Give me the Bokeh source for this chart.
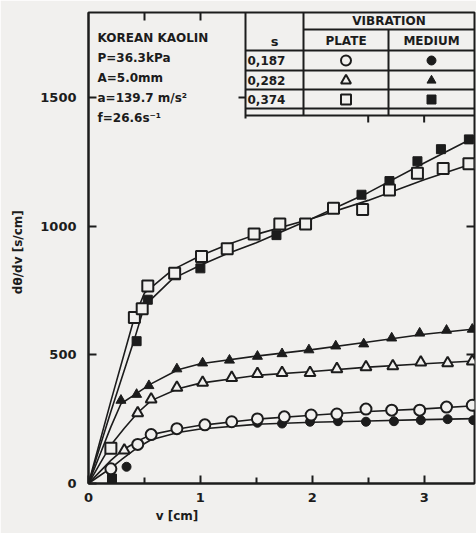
from bokeh.plotting import figure
from bokeh.models import Range1d, LinearAxis, FixedTicker, Label
from bokeh.embed import file_html
from bokeh.resources import INLINE

# ---------------- data ----------------
# s = 0.187  (circles)
plate_187_x = [0.20, 0.44, 0.56, 0.79, 1.04, 1.28, 1.51, 1.75, 1.99, 2.22, 2.48, 2.71, 2.96, 3.20, 3.43]
plate_187_y = [57, 152, 190, 213, 228, 240, 251, 259, 266, 270, 289, 285, 285, 297, 304]
medium_187_x = [0.34, 1.51, 1.73, 1.98, 2.23, 2.48, 2.73, 2.97, 3.21, 3.44]
medium_187_y = [65, 236, 233, 240, 242, 240, 242, 246, 250, 246]
# s = 0.282  (triangles)
plate_282_x = [0.32, 0.44, 0.56, 0.79, 1.02, 1.28, 1.51, 1.73, 1.98, 2.22, 2.48, 2.72, 2.97, 3.21, 3.43]
plate_282_y = [129, 274, 327, 373, 392, 411, 426, 430, 430, 445, 452, 456, 471, 468, 475]
medium_282_x = [0.29, 0.43, 0.54, 0.79, 1.02, 1.26, 1.51, 1.73, 1.97, 2.21, 2.46, 2.71, 2.96, 3.20, 3.43]
medium_282_y = [323, 346, 380, 445, 468, 479, 494, 504, 519, 534, 542, 565, 584, 595, 599]
# s = 0.374  (squares)
plate_374_x = [0.20, 0.41, 0.48, 0.53, 0.77, 1.01, 1.24, 1.48, 1.71, 1.94, 2.19, 2.45, 2.69, 2.94, 3.17, 3.40]
plate_374_y = [137, 645, 679, 767, 817, 882, 912, 969, 1008, 1008, 1069, 1065, 1140, 1205, 1224, 1242]
medium_374_x = [0.21, 0.43, 0.53, 0.78, 1.00, 1.68, 2.44, 2.69, 2.94, 3.15, 3.40]
medium_374_y = [19, 553, 714, 809, 836, 965, 1122, 1175, 1252, 1299, 1337]

# fitted curves as drawn in the figure
curve_plate_187_x = [0, 0.1, 0.2, 0.3, 0.44, 0.56, 0.8, 1.0, 1.5, 2.0, 2.5, 3.0, 3.45]
curve_plate_187_y = [0, 45, 90, 128, 165, 190, 212, 226, 250, 265, 280, 290, 302]
curve_medium_187_x = [0, 0.1, 0.2, 0.3, 0.44, 0.56, 0.8, 1.0, 1.5, 2.0, 2.5, 3.0, 3.45]
curve_medium_187_y = [0, 30, 60, 95, 140, 170, 198, 212, 230, 238, 243, 248, 252]
curve_plate_282_x = [0, 0.1, 0.2, 0.32, 0.44, 0.56, 0.8, 1.0, 1.5, 2.0, 2.5, 3.0, 3.45]
curve_plate_282_y = [0, 75, 150, 215, 275, 322, 368, 390, 420, 435, 452, 465, 476]
curve_medium_282_x = [0, 0.1, 0.2, 0.29, 0.43, 0.55, 0.8, 1.0, 1.5, 2.0, 2.5, 3.0, 3.45]
curve_medium_282_y = [0, 110, 220, 310, 350, 385, 442, 465, 495, 520, 550, 580, 600]
curve_plate_374_x = [0, 0.2, 0.41, 0.5, 0.75, 1.0, 1.25, 1.5, 2.0, 2.5, 3.0, 3.45]
curve_plate_374_y = [0, 320, 645, 740, 830, 885, 930, 968, 1030, 1100, 1180, 1245]
curve_medium_374_x = [0, 0.2, 0.41, 0.5, 0.75, 1.0, 1.25, 1.5, 2.0, 2.5, 3.0, 3.45]
curve_medium_374_y = [0, 280, 560, 690, 795, 848, 895, 935, 1030, 1130, 1245, 1345]

x_ticks = [0, 1, 2, 3]
x_minor = [0.5, 1.5, 2.5]
y_ticks = [0, 500, 1000, 1500]
s_labels = ["0,187", "0,282", "0,374"]
info_lines = ["KOREAN KAOLIN", "P=36.3kPa", "A=5.0mm", "a=139.7 m/s\u00b2", "f=26.6s\u207b\u00b9"]
x_title = "v   [cm]"
y_title = "d\u03b8/dv   [s/cm]"

# ---------------- layout ----------------
INK = "#1c1c1c"
PAPER = "#f1f0ee"
FONT = "DejaVu Sans"
X_END, Y_END = 3.45, 1830
W, H = 476, 533
BL, BR, BT, BB = 88, 2, 12, 50
FL, FR, FT, FB = BL, W - BR, BT, H - BB   # frame in picture px


def dx(px):
    return (px - FL) / (FR - FL) * X_END


def dy(py):
    return (FB - py) / (FB - FT) * Y_END


p = figure(width=W, height=H, output_backend="svg", toolbar_location=None, title=None,
           x_range=Range1d(0, X_END), y_range=Range1d(0, Y_END),
           min_border_left=BL, min_border_right=BR, min_border_top=BT, min_border_bottom=BB,
           background_fill_color=PAPER, border_fill_color=PAPER,
           outline_line_color=INK, outline_line_width=2)
p.grid.visible = False

xa = p.xaxis[0]
xa.ticker = FixedTicker(ticks=x_ticks, minor_ticks=x_minor)
ya = p.yaxis[0]
ya.ticker = FixedTicker(ticks=y_ticks, minor_ticks=[])
for ax in (xa, ya):
    ax.axis_line_color = INK
    ax.axis_line_width = 2
    ax.major_tick_line_color = INK
    ax.major_tick_line_width = 2
    ax.minor_tick_line_color = INK
    ax.minor_tick_line_width = 2
    ax.major_tick_in = 8
    ax.major_tick_out = 0
    ax.minor_tick_in = 6
    ax.minor_tick_out = 0
    ax.major_label_text_font = FONT
    ax.major_label_text_font_size = "13px"
    ax.major_label_text_font_style = "bold"
    ax.major_label_text_color = INK
    ax.axis_label_text_font = FONT
    ax.axis_label_text_font_size = "12px"
    ax.axis_label_text_font_style = "bold"
    ax.axis_label_text_color = INK
xa.major_label_standoff = 9
ya.major_label_standoff = 12
ya.axis_label = y_title
ya.axis_label_standoff = 12
# x title sits left of centre in the reference: pad with no-break spaces
xa.axis_label = x_title + "\u00a0" * 48
xa.axis_label_standoff = 4


def mirror(ticks):
    return dict(ticker=FixedTicker(ticks=ticks, minor_ticks=[]),
                major_label_overrides={t: "" for t in ticks},
                major_label_text_font_size="1px",
                major_label_standoff=0, major_tick_in=8, major_tick_out=0,
                minor_tick_in=0, minor_tick_out=0, axis_line_color=None,
                major_tick_line_color=INK, major_tick_line_width=2)


p.add_layout(LinearAxis(**mirror([0.5, 1.0])), "above")
p.add_layout(LinearAxis(**mirror([500, 1000])), "right")

# curves
for cx, cy in [(curve_plate_187_x, curve_plate_187_y), (curve_medium_187_x, curve_medium_187_y),
               (curve_plate_282_x, curve_plate_282_y), (curve_medium_282_x, curve_medium_282_y),
               (curve_plate_374_x, curve_plate_374_y), (curve_medium_374_x, curve_medium_374_y)]:
    p.line(cx, cy, line_color=INK, line_width=1.6)

# filled markers (vibration medium)
p.scatter(medium_187_x, medium_187_y, marker="circle", size=9, fill_color=INK, line_color=INK)
p.scatter(medium_282_x, medium_282_y, marker="triangle", size=10, fill_color=INK, line_color=INK)
p.scatter(medium_374_x, medium_374_y, marker="square", size=9, fill_color=INK, line_color=INK)
# open markers (vibration plate)
p.scatter(plate_187_x, plate_187_y, marker="circle", size=11, fill_color=PAPER, line_color=INK, line_width=2)
p.scatter(plate_282_x, plate_282_y, marker="triangle", size=11, fill_color=PAPER, line_color=INK, line_width=2)
p.scatter(plate_374_x, plate_374_y, marker="square", size=11, fill_color=PAPER, line_color=INK, line_width=2)

# ---------------- table (top right) ----------------
TX0, TX1, TX2, TX3 = 245, 303, 388, FR
h_lines = [(TX1, 29, TX3), (TX0, 50, TX3), (TX0, 70, TX3), (TX0, 89, TX3), (TX0, 108, TX3), (TX0, 115, TX3)]
v_lines = [(TX0, FT, 118), (TX1, FT, 115), (TX2, 29, 115)]
p.segment(x0=[dx(a) for a, _, _ in h_lines], y0=[dy(b) for _, b, _ in h_lines],
          x1=[dx(c) for _, _, c in h_lines], y1=[dy(b) for _, b, _ in h_lines],
          line_color=INK, line_width=2)
p.segment(x0=[dx(a) for a, _, _ in v_lines], y0=[dy(b) for _, b, _ in v_lines],
          x1=[dx(a) for a, _, _ in v_lines], y1=[dy(c) for _, _, c in v_lines],
          line_color=INK, line_width=2)
# small ticks on the table border
p.segment(x0=[2.5, 3.0], y0=[dy(115)] * 2, x1=[2.5, 3.0], y1=[dy(122)] * 2, line_color=INK, line_width=2)
p.segment(x0=[dx(TX0 - 7)], y0=[1500], x1=[dx(TX0)], y1=[1500], line_color=INK, line_width=2)


def lab(px, py, text, size="12px", align="left"):
    p.add_layout(Label(x=dx(px), y=dy(py), text=text, text_font=FONT, text_font_size=size,
                       text_font_style="bold", text_color=INK, text_align=align,
                       text_baseline="middle"))


lab((TX1 + TX3) / 2, 20, "VIBRATION", align="center")
lab((TX1 + TX2) / 2, 40, "PLATE", align="center")
lab((TX2 + TX3) / 2, 40, "MEDIUM", align="center")
lab((TX0 + TX1) / 2, 41, "s", size="13px", align="center")
row_py = [60, 80, 99]
for t, ry in zip(s_labels, row_py):
    lab(TX0 + 2, ry, t, size="12px")

plate_px = (TX1 + TX2) / 2
medium_px = (TX2 + TX3) / 2
for mk, ry in zip(["circle", "triangle", "square"], row_py):
    p.scatter([dx(plate_px)], [dy(ry)], marker=mk, size=10, fill_color=PAPER, line_color=INK, line_width=2)
    p.scatter([dx(medium_px)], [dy(ry)], marker=mk, size=9, fill_color=INK, line_color=INK)

# info text (top left)
for i, t in enumerate(info_lines):
    lab(97, 37 + i * 20, t, size="12px")

open("out.html", "w").write(file_html(p, INLINE))
